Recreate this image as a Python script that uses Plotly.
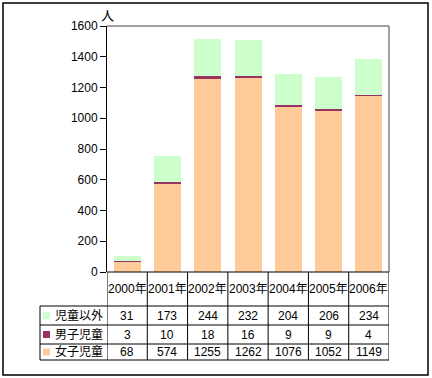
import plotly.graph_objects as go

years = ["2000年", "2001年", "2002年", "2003年", "2004年", "2005年", "2006年"]
girls = [68, 574, 1255, 1262, 1076, 1052, 1149]
boys = [3, 10, 18, 16, 9, 9, 4]
others = [31, 173, 244, 232, 204, 206, 234]

series = [
    ("女子児童", girls, "#FFCC99"),
    ("男子児童", boys, "#993366"),
    ("児童以外", others, "#CCFFCC"),
]

FONT = "Liberation Sans, Arial, Noto Sans CJK JP, sans-serif"

fig = go.Figure()
for name, vals, col in series:
    fig.add_trace(go.Bar(x=years, y=vals, name=name, marker=dict(color=col, line=dict(width=0)),
                         hoverinfo="skip"))

# plot area geometry (pixels)
L, R, T, B = 107, 389, 26, 272
W, H = R - L, B - T

def py(p):  # pixel y -> paper y
    return (B - p) / H

def px(p):  # pixel x -> paper x
    return (p - L) / W

shapes = []
line_blk = dict(color="black", width=1)
shapes.append(dict(type="line", xref="paper", yref="paper", x0=0, x1=1, y0=1, y1=1, line=dict(color="#808080", width=1.5)))
shapes.append(dict(type="line", xref="paper", yref="paper", x0=1, x1=1, y0=0, y1=1, line=dict(color="#808080", width=1.5)))

row_lines = [306, 325, 344, 360]
shapes.append(dict(type="line", xref="paper", yref="paper", x0=0, x1=1, y0=0, y1=0, line=line_blk))
for r in row_lines:
    shapes.append(dict(type="line", xref="paper", yref="paper", x0=px(40), x1=1, y0=py(r), y1=py(r), line=line_blk))
for i in range(len(years) + 1):
    shapes.append(dict(type="line", xref="x", yref="paper", x0=i - 0.5, x1=i - 0.5, y0=0, y1=py(360), line=line_blk))
shapes.append(dict(type="line", xref="paper", yref="paper", x0=px(40), x1=px(40), y0=py(306), y1=py(360), line=line_blk))

shapes.append(dict(type="rect", xref="paper", yref="paper", x0=px(3), x1=px(428), y0=py(3), y1=py(375), line=dict(color="black", width=1.5)))

annotations = []
for yr in years:
    annotations.append(dict(x=yr, xref="x", y=py(289), yref="paper", text=yr, showarrow=False,
                            font=dict(size=12, color="black", family=FONT), xanchor="center", yanchor="middle"))
row_centers = [315.5, 334.5, 352]
row_series = [series[2], series[1], series[0]]
for (name, vals, col), rc in zip(row_series, row_centers):
    for yr, v in zip(years, vals):
        annotations.append(dict(x=yr, xref="x", y=py(rc), yref="paper", text=str(v), showarrow=False,
                                font=dict(size=12, color="black", family=FONT), xanchor="center", yanchor="middle"))
    annotations.append(dict(x=px(53), xref="paper", y=py(rc), yref="paper", text=name, showarrow=False,
                            font=dict(size=12, color="black", family=FONT), xanchor="left", yanchor="middle"))
    shapes.append(dict(type="rect", xref="paper", yref="paper", x0=px(43), x1=px(50),
                       y0=py(rc + 3.5), y1=py(rc - 3.5), fillcolor=col, line=dict(width=0)))

annotations.append(dict(x=px(107), xref="paper", y=py(16), yref="paper", text="人", showarrow=False,
                        font=dict(size=13, color="black", family=FONT), xanchor="center", yanchor="middle"))

fig.update_layout(
    barmode="stack",
    bargap=0.33,
    width=432, height=378,
    margin=dict(l=L, r=432 - R, t=T, b=378 - B, pad=0),
    paper_bgcolor="white", plot_bgcolor="white",
    showlegend=False,
    font=dict(family=FONT, size=12, color="black"),
    shapes=shapes,
    annotations=annotations,
    xaxis=dict(type="category", categoryorder="array", categoryarray=years, range=[-0.5, 6.5],
               showticklabels=False, showgrid=False, zeroline=False, showline=False, ticks=""),
    yaxis=dict(range=[0, 1600], dtick=200, showgrid=False, zeroline=False, showline=True,
               linecolor="black", linewidth=1, ticks="outside", ticklen=6, tickcolor="black",
               tickfont=dict(size=12, family=FONT, color="black")),
)

fig.write_html("out.html", config={"displayModeBar": False},
               post_script="document.body.style.margin='0';document.body.style.padding='0';document.body.style.overflow='hidden';")
